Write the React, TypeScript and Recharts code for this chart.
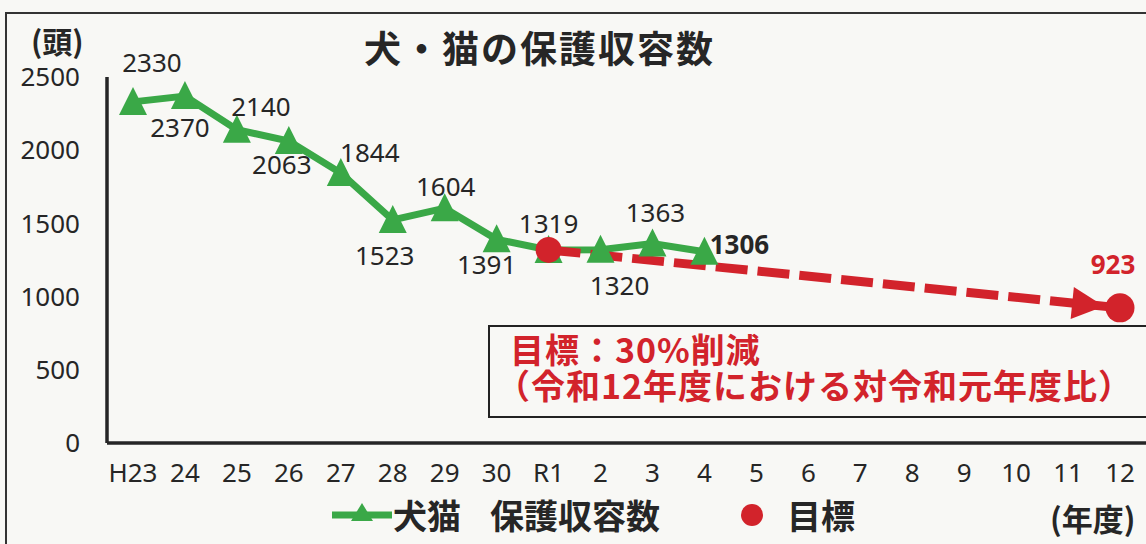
import { LineChart, Line, XAxis, YAxis, LabelList } from 'recharts'

const years = ['H23', '24', '25', '26', '27', '28', '29', '30', 'R1', '2', '3', '4', '5', '6', '7', '8', '9', '10', '11', '12']
const shelterCounts = [2330, 2370, 2140, 2063, 1844, 1523, 1604, 1391, 1319, 1320, 1363, 1306, null, null, null, null, null, null, null, null]
const goalCounts = [null, null, null, null, null, null, null, null, 1319, null, null, null, null, null, null, null, null, null, null, 923]
const yTicks = [0, 500, 1000, 1500, 2000, 2500]

// where each count label sits relative to its triangle
const labelNudge = [
  [19, -40], [-5, 31], [24, -24], [-7, 23], [29, -21], [-8, 35],
  [1, -22], [-10, 25], [0, -27], [19, 35], [3, -31], [35, -8],
]

const rows = years.map((year, i) => ({
  year,
  count: shelterCounts[i],
  goal: goalCounts[i],
}))

const GREEN = '#3aa847'
const RED = '#d2232b'
const INK = '#262626'
const NUM_FONT = "'Noto Sans', 'DejaVu Sans', sans-serif"
const JP_FONT = "'Noto Sans CJK JP', 'Noto Sans CJK SC', sans-serif"

function Triangle(props: any) {
  const { cx, cy, index, value } = props
  if (value == null || cx == null || cy == null) return <g key={`t${index}`} />
  return (
    <path
      key={`t${index}`}
      d={`M${cx},${cy - 15} L${cx - 14},${cy + 13} L${cx + 14},${cy + 13} Z`}
      fill={GREEN}
    />
  )
}

function GoalDot(props: any) {
  const { cx, cy, index, value } = props
  if (value == null || cx == null || cy == null) return <g key={`g${index}`} />
  return <circle key={`g${index}`} cx={cx} cy={cy} r={index === years.length - 1 ? 14.5 : 13} fill={RED} />
}

function CountLabel(props: any) {
  const { index, value } = props
  const x = props.x ?? props.viewBox?.x
  const y = props.y ?? props.viewBox?.y
  if (value == null || x == null || labelNudge[index] == null) return null
  const [dx, dy] = labelNudge[index]
  const last = index === shelterCounts.filter(v => v != null).length - 1
  return (
    <text
      x={x + dx}
      y={y + dy}
      textAnchor="middle"
      dominantBaseline="central"
      fontFamily={NUM_FONT}
      fontSize={26}
      fontWeight={last ? 700 : 400}
      fill={INK}
    >
      {value}
    </text>
  )
}

function GoalLabel(props: any) {
  const { index, value } = props
  const x = props.x ?? props.viewBox?.x
  const y = props.y ?? props.viewBox?.y
  if (value == null || index !== years.length - 1) return null
  return (
    <text x={x - 7} y={y - 44} textAnchor="middle" dominantBaseline="central"
      fontFamily={NUM_FONT} fontSize={26} fontWeight={700} fill={RED}>
      {value}
    </text>
  )
}

const abs = (left: number, top: number, extra: any = {}) => ({
  position: 'absolute' as const, left, top, whiteSpace: 'nowrap' as const, ...extra,
})

export default function App() {
  return (
    <div style={{ position: 'absolute', left: 0, top: 0, width: 1146, height: 544, overflow: 'hidden', background: '#f8f8f5' }}>
      <svg width={0} height={0} style={{ position: 'absolute' }}>
        <defs>
          <marker id="goalArrow" markerUnits="userSpaceOnUse" markerWidth={34} markerHeight={34}
            refX={48} refY={16} orient="auto" viewBox="0 0 34 34" overflow="visible">
            <path d="M0,0 L32,16 L0,32 Z" fill={RED} />
          </marker>
        </defs>
      </svg>

      {/* scan frame */}
      <div style={abs(5, 12, { width: 1180, height: 580, border: '2px solid #333', boxSizing: 'border-box' })} />

      <div style={abs(0, 0)}>
        <LineChart width={1146} height={544} data={rows} margin={{ top: 77, right: 0, left: 22, bottom: 61 }}>
          <XAxis
            dataKey="year"
            interval={0}
            padding={{ left: 26, right: 26 }}
            height={40}
            tickLine={false}
            tickSize={0}
            tickMargin={21}
            axisLine={{ stroke: INK, strokeWidth: 3.5 }}
            tick={{ fill: INK, fontSize: 26, fontFamily: NUM_FONT }}
          />
          <YAxis
            domain={[0, 2500]}
            ticks={yTicks}
            interval={0}
            width={85}
            tickLine={false}
            tickSize={0}
            tickMargin={27}
            axisLine={{ stroke: INK, strokeWidth: 3.5 }}
            tick={{ fill: INK, fontSize: 26, fontFamily: NUM_FONT }}
          />
          <Line
            dataKey="count"
            type="linear"
            stroke={GREEN}
            strokeWidth={7}
            dot={Triangle}
            activeDot={false}
            isAnimationActive={false}
          >
            <LabelList dataKey="count" content={CountLabel} />
          </Line>
          <Line
            dataKey="goal"
            type="linear"
            stroke={RED}
            strokeWidth={9}
            strokeDasharray="32 10"
            markerEnd="url(#goalArrow)"
            connectNulls
            dot={GoalDot}
            activeDot={false}
            isAnimationActive={false}
          >
            <LabelList dataKey="goal" content={GoalLabel} />
          </Line>
        </LineChart>
      </div>

      <div style={abs(31, 28, { fontFamily: JP_FONT, fontSize: 30, lineHeight: '24px', fontWeight: 700, color: INK })}>(頭)</div>
      <div style={abs(364, 29, { fontFamily: JP_FONT, fontSize: 37, lineHeight: '37px', fontWeight: 700, letterSpacing: 2, color: INK })}>
        犬・猫の保護収容数
      </div>

      {/* goal note */}
      <div style={abs(488, 325, { width: 700, height: 93, border: '2px solid #222', boxSizing: 'border-box' })} />
      <div style={abs(496, 331, { fontFamily: JP_FONT, fontSize: 34, lineHeight: '36px', fontWeight: 700, letterSpacing: 1, color: RED })}>
        <span style={{ marginLeft: 14 }}>目標：30%削減</span>
        <br />
        （令和12年度における対令和元年度比）
      </div>

      {/* legend */}
      <svg style={abs(330, 500)} width={64} height={30}>
        <line x1={2} y1={15} x2={62} y2={15} stroke={GREEN} strokeWidth={7} />
        <path d="M32,3 L21,21 L43,21 Z" fill={GREEN} />
      </svg>
      <div style={abs(393, 498, { fontFamily: JP_FONT, fontSize: 34, lineHeight: '34px', fontWeight: 700, color: INK })}>犬猫</div>
      <div style={abs(490, 498, { fontFamily: JP_FONT, fontSize: 34, lineHeight: '34px', fontWeight: 700, color: INK })}>保護収容数</div>
      <svg style={abs(740, 503)} width={24} height={24}>
        <circle cx={12} cy={12} r={11} fill={RED} />
      </svg>
      <div style={abs(787, 498, { fontFamily: JP_FONT, fontSize: 34, lineHeight: '34px', fontWeight: 700, color: INK })}>目標</div>
      <div style={abs(1050, 502, { fontFamily: JP_FONT, fontSize: 31, lineHeight: '31px', fontWeight: 700, color: INK })}>(年度)</div>
    </div>
  )
}
